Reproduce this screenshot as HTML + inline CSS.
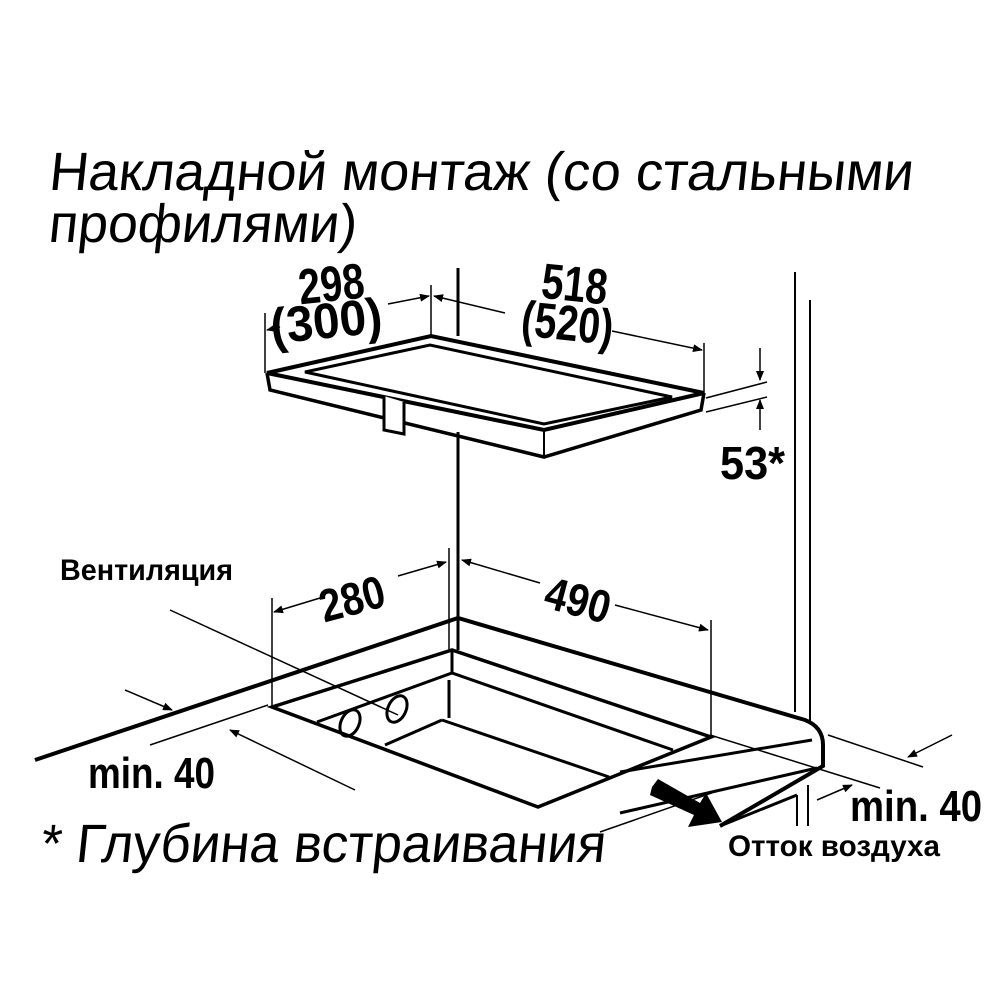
<!DOCTYPE html>
<html><head><meta charset="utf-8"><style>
html,body{margin:0;padding:0;background:#fff;}
svg{display:block;}
text{font-family:"Liberation Sans",sans-serif;fill:#000;}
.b{font-weight:bold;}
</style></head><body>
<svg width="1000" height="1000" viewBox="0 0 1000 1000" xmlns="http://www.w3.org/2000/svg">
<defs>
<marker id="ar" markerWidth="10" markerHeight="8" refX="9" refY="4" orient="auto" markerUnits="userSpaceOnUse">
<path d="M0,0 L10,4 L0,8 z" fill="#000"/></marker>
</defs>
<text x="48" y="190" font-size="54" textLength="864" lengthAdjust="spacingAndGlyphs" transform="skewX(-6) translate(20,0)">Накладной монтаж (со стальными</text>
<text x="48" y="242" font-size="54" textLength="308" lengthAdjust="spacingAndGlyphs" transform="skewX(-6) translate(25,0)">профилями)</text>
<text x="40" y="862" font-size="54" textLength="565" lengthAdjust="spacingAndGlyphs" transform="skewX(-6) translate(90,0)">* Глубина встраивания</text>

<g stroke="#000" fill="none">
<line x1="458" y1="268" x2="458" y2="336" stroke-width="3"/>
<line x1="458" y1="432" x2="458" y2="618" stroke-width="3"/>
<line x1="449" y1="548" x2="449" y2="650" stroke-width="1.5"/>
<line x1="795" y1="272" x2="795" y2="712" stroke-width="2"/>
<line x1="810" y1="300" x2="810" y2="722" stroke-width="2"/>
<path d="M267,373 L431,336 L704,393 L544,430 Z" stroke-width="4" fill="#fff"/>
<path d="M305,372 L430,345 L672,397 L544,424 Z" stroke-width="3"/>
<path d="M267,373 L270,390 L544,457 L701,410 L704,393" stroke-width="3.5"/>
<line x1="544" y1="430" x2="544" y2="457" stroke-width="2"/>
<path d="M384,396 L384,430 L404,434 L404,402" stroke-width="3" fill="#fff"/>
<line x1="265" y1="313" x2="265" y2="373" stroke-width="1.5"/>
<line x1="431" y1="285" x2="431" y2="336" stroke-width="1.5"/>
<line x1="704" y1="343" x2="704" y2="393" stroke-width="1.5"/>
<line x1="280" y1="327" x2="267" y2="330" stroke-width="1.5" marker-end="url(#ar)"/>
<line x1="388" y1="304" x2="429" y2="296" stroke-width="1.5" marker-end="url(#ar)"/>
<line x1="505" y1="313" x2="434" y2="296" stroke-width="1.5" marker-end="url(#ar)"/>
<line x1="612" y1="331" x2="702" y2="350" stroke-width="1.5" marker-end="url(#ar)"/>
<line x1="706" y1="398" x2="767" y2="382" stroke-width="1.5"/>
<line x1="706" y1="412" x2="767" y2="397" stroke-width="1.5"/>
<line x1="760" y1="348" x2="760" y2="380" stroke-width="1.5" marker-end="url(#ar)"/>
<line x1="760" y1="430" x2="760" y2="400" stroke-width="1.5" marker-end="url(#ar)"/>
<path d="M35,760 L458,618 L805,720 Q823,727 823,745 L823,766 L720,826" stroke-width="4"/>
<path d="M272,707 L452,650 L711,737 L538,807 Z" stroke-width="3.5"/>
<path d="M452,650 L452,673 M317,722 L452,673 L673,750 M449,680 L449,718 M442,720 L609,777 M385,745 L442,720" stroke-width="3"/>
<line x1="458" y1="618" x2="458" y2="650" stroke-width="3"/>
<line x1="620" y1="772" x2="812" y2="740" stroke-width="3"/>
<line x1="620" y1="813" x2="817" y2="768" stroke-width="3"/>
<line x1="720" y1="826" x2="797" y2="795" stroke-width="3"/>
<line x1="797" y1="795" x2="797" y2="826" stroke-width="2"/>
<line x1="808" y1="785" x2="808" y2="826" stroke-width="2"/>
<line x1="600" y1="832" x2="720" y2="790" stroke-width="1.5"/>
<ellipse cx="350" cy="723" rx="9" ry="14" transform="rotate(25 350 723)" stroke-width="3"/>
<ellipse cx="397" cy="709" rx="9" ry="14" transform="rotate(25 397 709)" stroke-width="3"/>
<line x1="272" y1="598" x2="272" y2="707" stroke-width="1.5"/>
<line x1="711" y1="620" x2="711" y2="737" stroke-width="1.5"/>
<line x1="320" y1="598" x2="274" y2="612" stroke-width="1.5" marker-end="url(#ar)"/>
<line x1="398" y1="576" x2="446" y2="562" stroke-width="1.5" marker-end="url(#ar)"/>
<line x1="540" y1="583" x2="462" y2="560" stroke-width="1.5" marker-end="url(#ar)"/>
<line x1="615" y1="605" x2="708" y2="630" stroke-width="1.5" marker-end="url(#ar)"/>
<line x1="170" y1="610" x2="398" y2="715" stroke-width="1.5"/>
<line x1="125" y1="690" x2="172" y2="710" stroke-width="1.5" marker-end="url(#ar)"/>
<line x1="150" y1="745" x2="268" y2="705" stroke-width="1.5"/>
<line x1="355" y1="790" x2="230" y2="730" stroke-width="1.5" marker-end="url(#ar)"/>
<line x1="710" y1="735" x2="880" y2="788" stroke-width="1.5"/>
<line x1="828" y1="735" x2="923" y2="767" stroke-width="1.5"/>
<line x1="952" y1="735" x2="908" y2="757" stroke-width="1.5" marker-end="url(#ar)"/>
<line x1="817" y1="800" x2="852" y2="785" stroke-width="1.5" marker-end="url(#ar)"/>
</g>
<path d="M652,787 L658,779 L700,803 L706,793 L722,822 L688,827 L694,815 L650,795 Z" fill="#000"/>

<text x="60" y="580" class="b" font-size="30" textLength="173" lengthAdjust="spacingAndGlyphs">Вентиляция</text>
<text x="88" y="788" class="b" font-size="44" textLength="127" lengthAdjust="spacingAndGlyphs">min. 40</text>
<text x="850" y="821" class="b" font-size="44" textLength="132" lengthAdjust="spacingAndGlyphs">min. 40</text>
<text x="728" y="856" class="b" font-size="30" textLength="212" lengthAdjust="spacingAndGlyphs">Отток воздуха</text>
<text x="720" y="479" class="b" font-size="46" textLength="65" lengthAdjust="spacingAndGlyphs">53*</text>
<g transform="rotate(-6 332 300)"><text x="300" y="301" class="b" font-size="50" textLength="66" lengthAdjust="spacingAndGlyphs">298</text></g>
<g transform="rotate(-6 328 338)"><text x="272" y="338" class="b" font-size="50" textLength="112" lengthAdjust="spacingAndGlyphs">(300)</text></g>
<g transform="rotate(6 572 300)"><text x="540" y="301" class="b" font-size="50" textLength="66" lengthAdjust="spacingAndGlyphs">518</text></g>
<g transform="rotate(6 565 338)"><text x="520" y="340" class="b" font-size="50" textLength="92" lengthAdjust="spacingAndGlyphs">(520)</text></g>
<g transform="rotate(-15 356 610)"><text x="322" y="614" class="b" font-size="46" textLength="66" lengthAdjust="spacingAndGlyphs">280</text></g>
<g transform="rotate(15 578 600)"><text x="545" y="616" class="b" font-size="46" textLength="66" lengthAdjust="spacingAndGlyphs">490</text></g>
</svg>
</body></html>
